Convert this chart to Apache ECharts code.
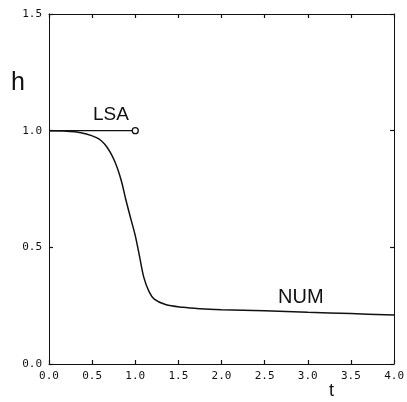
<!DOCTYPE html>
<html>
<head>
<meta charset="utf-8">
<script src="https://cdn.jsdelivr.net/npm/echarts@6/dist/echarts.min.js"></script>
<style>
  html, body { margin: 0; padding: 0; background: #fff; }
  #chart { width: 407px; height: 402px; }
</style>
</head>
<body>
<div id="chart"></div>
<script>
// numerical solution h(t)
const numT = [0, 0.3, 0.55, 0.66, 0.76, 0.835, 0.89, 0.95, 1.0, 1.05, 1.1, 1.16, 1.22, 1.35, 1.55, 1.75, 2.0, 2.5, 3.0, 3.5, 4.0]
const numH = [1.0, 0.995, 0.97, 0.935, 0.87, 0.79, 0.705, 0.62, 0.55, 0.46, 0.37, 0.31, 0.278, 0.255, 0.243, 0.237, 0.233, 0.228, 0.222, 0.216, 0.21]

// linear stability analysis
const lsaT = [0, 1.0]
const lsaH = [1.0, 1.0]

const chart = echarts.init(document.getElementById('chart'))

const tickFont = {
  fontFamily: 'DejaVu Sans Mono',
  fontSize: 11,
  color: '#111'
}

// frame: axis line + labels
function frameAxis(min, max, position, showLabel) {
  return {
    type: 'value',
    min: min,
    max: max,
    interval: 0.5,
    position: position,
    axisLine: { show: true, onZero: false, lineStyle: { color: '#111', width: 1 } },
    axisTick: { show: false },
    splitLine: { show: false },
    axisLabel: showLabel
      ? Object.assign({ show: true, margin: 7, formatter: v => v.toFixed(1) }, tickFont)
      : { show: false }
  }
}

// helper axis sitting 4px inside the frame, its outer ticks reach back to the frame line
function tickAxis(min, max, position) {
  return {
    type: 'value',
    min: min,
    max: max,
    interval: 0.5,
    position: position,
    offset: -4,
    axisLine: { show: true, onZero: false, lineStyle: { color: 'rgba(0,0,0,0)', width: 1 } },
    axisTick: { show: true, inside: false, length: 4, lineStyle: { color: '#111', width: 1.2 } },
    splitLine: { show: false },
    axisLabel: { show: false }
  }
}

const option = {
  animation: false,
  backgroundColor: '#fff',
  grid: { left: 49, right: 10, top: 14, bottom: 38 },
  xAxis: [
    frameAxis(0, 4, 'bottom', true),
    frameAxis(0, 4, 'top', false),
    tickAxis(0, 4, 'bottom'),
    tickAxis(0, 4, 'top')
  ],
  yAxis: [
    frameAxis(0, 1.5, 'left', true),
    frameAxis(0, 1.5, 'right', false),
    tickAxis(0, 1.5, 'left'),
    tickAxis(0, 1.5, 'right')
  ],
  graphic: [
    { type: 'text', left: 11, top: 71, style: { text: 'h', font: '25px "Liberation Sans"', fill: '#111' } },
    { type: 'text', left: 93, top: 105, style: { text: 'LSA', font: '19px "Liberation Sans"', fill: '#111' } },
    { type: 'text', left: 278, top: 287, style: { text: 'NUM', font: '20px "Liberation Sans"', fill: '#111' } },
    { type: 'text', left: 329, top: 382, style: { text: 't', font: '18px "Liberation Sans"', fill: '#111' } }
  ],
  series: [
    {
      name: 'NUM',
      type: 'line',
      xAxisIndex: 0,
      yAxisIndex: 0,
      smooth: 0.35,
      symbol: 'none',
      lineStyle: { color: '#111', width: 1.5 },
      data: numT.map((t, i) => [t, numH[i]])
    },
    {
      name: 'LSA',
      type: 'line',
      xAxisIndex: 0,
      yAxisIndex: 0,
      symbol: 'circle',
      symbolSize: 6,
      itemStyle: { color: '#fff', borderColor: '#111', borderWidth: 1.3 },
      lineStyle: { color: '#111', width: 1.3 },
      data: lsaT.map((t, i) => i === 0 ? { value: [t, lsaH[i]], symbol: 'none' } : [t, lsaH[i]])
    }
  ]
}

chart.setOption(option)
</script>
</body>
</html>
